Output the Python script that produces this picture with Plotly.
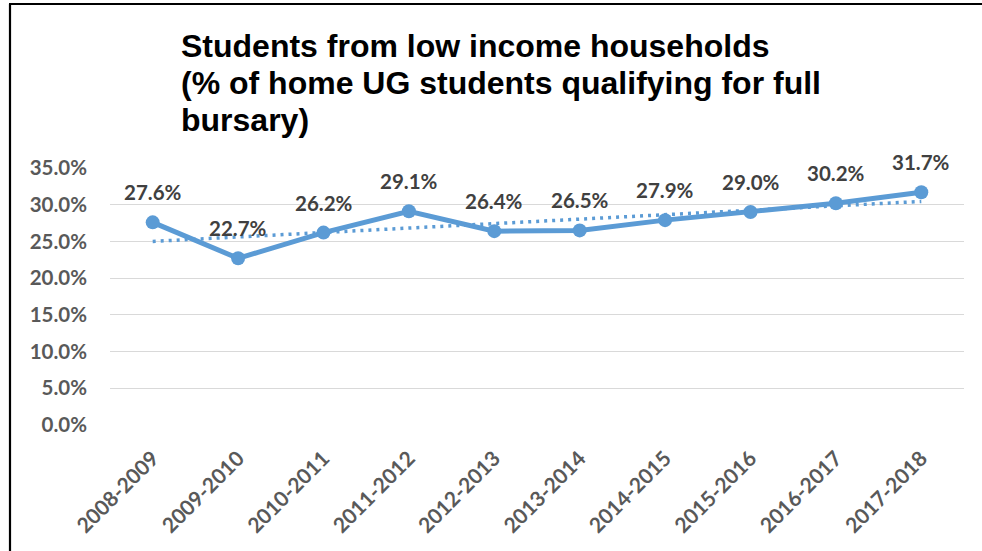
import plotly.graph_objects as go

# Academic years and share of home UG students qualifying for full bursary (%)
years = ["2008-2009", "2009-2010", "2010-2011", "2011-2012", "2012-2013",
         "2013-2014", "2014-2015", "2015-2016", "2016-2017", "2017-2018"]
share_pct = [27.6, 22.7, 26.2, 29.1, 26.4, 26.5, 27.9, 29.0, 30.2, 31.7]
y_ticks = [0, 5, 10, 15, 20, 25, 30, 35]
title_lines = ["Students from low income households",
               "(% of home UG students qualifying for full",
               "bursary)"]

W, H = 982, 551
M_L, M_R, M_T, M_B = 110, 18, 168, 126
BLUE = "#5B9BD5"

# Linear trend line (least squares) over the category index
n = len(share_pct)
xs = list(range(n))
mx = sum(xs) / n
my = sum(share_pct) / n
slope = sum((x - mx) * (y - my) for x, y in zip(xs, share_pct)) / sum((x - mx) ** 2 for x in xs)
trend = [my + slope * (x - mx) for x in xs]

fig = go.Figure()

fig.add_trace(go.Scatter(
    x=xs, y=trend, mode="lines",
    line=dict(color=BLUE, width=3.5, dash="3px,5px"),
    hoverinfo="skip", showlegend=False,
))

fig.add_trace(go.Scatter(
    x=xs, y=share_pct, mode="lines+markers",
    line=dict(color=BLUE, width=5),
    marker=dict(color=BLUE, size=14),
    showlegend=False,
))

for x, v in zip(xs, share_pct):
    fig.add_annotation(
        x=x, y=v, text=f"{v:.1f}%", showarrow=False, yshift=30,
        font=dict(family="Lato", size=20.5, color="#404040", weight="bold"),
    )

# Pixel -> paper coordinate helpers
pw = W - M_L - M_R
ph = H - M_T - M_B
def px_x(p):
    return (p - M_L) / pw
def px_y(p):
    return (H - M_B - p) / ph

# Chart title, one line per annotation for tighter line spacing
for i, line in enumerate(title_lines):
    fig.add_annotation(
        xref="paper", yref="paper", x=px_x(179), y=px_y(46 + 37 * i),
        xanchor="left", yanchor="middle", showarrow=False, text=line,
        font=dict(family="Liberation Sans, Arial", size=32, color="black", weight="bold"),
    )

# Outer chart frame (left and top edges)
fig.add_shape(type="line", xref="paper", yref="paper",
              x0=px_x(10), x1=px_x(10), y0=px_y(4), y1=px_y(H + 5),
              line=dict(color="black", width=2.2))
fig.add_shape(type="line", xref="paper", yref="paper",
              x0=px_x(9), x1=px_x(W + 5), y0=px_y(4), y1=px_y(4),
              line=dict(color="black", width=2.2))

fig.update_layout(
    width=W, height=H,
    margin=dict(l=M_L, r=M_R, t=M_T, b=M_B),
    paper_bgcolor="white", plot_bgcolor="white",
    xaxis=dict(
        range=[-0.5, n - 0.5],
        tickmode="array", tickvals=xs, ticktext=years,
        tickangle=-45,
        tickfont=dict(family="Lato", size=21, color="#595959", weight="bold"),
        showgrid=False, zeroline=False, showline=False,
        ticks="", ticklabelstandoff=16,
    ),
    yaxis=dict(
        range=[0, 35],
        tickmode="array", tickvals=y_ticks,
        ticktext=[f"{t:.1f}%" for t in y_ticks],
        tickfont=dict(family="Lato", size=20.5, color="#595959", weight="bold"),
        showgrid=True, gridcolor="#D9D9D9", gridwidth=1.3,
        zeroline=False, showline=False, ticks="", ticklabelstandoff=22,
    ),
)

fig.write_html("out.html")
